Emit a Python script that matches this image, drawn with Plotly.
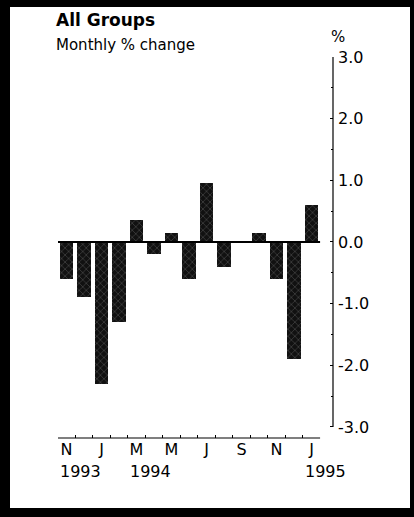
import plotly.graph_objects as go

# ---- data ----
months = ["Nov93", "Dec93", "Jan94", "Feb94", "Mar94", "Apr94", "May94", "Jun94",
          "Jul94", "Aug94", "Sep94", "Oct94", "Nov94", "Dec94", "Jan95"]
values = [-0.6, -0.9, -2.3, -1.3, 0.35, -0.2, 0.15, -0.6,
          0.95, -0.4, 0.0, 0.15, -0.6, -1.9, 0.6]
month_tick_idx = [0, 2, 4, 6, 8, 10, 12, 14]
month_tick_text = ["N", "J", "M", "M", "J", "S", "N", "J"]
year_idx = [0, 4, 14]
year_text = ["1993", "1994", "1995"]
y_tick_vals = [3, 2, 1, 0, -1, -2, -3]
y_tick_text = ["3.0", "2.0", "1.0", "0.0", "-1.0", "-2.0", "-3.0"]

W, H = 414, 517
L, R, T, B = 58, 81, 57, 79
pw = W - L - R
ph = H - T - B
x0r = -0.486
x1r = x0r + pw / 17.5
y0r, y1r = -3.18, 3.0

def px_x(p):
    return (p - L) / pw

def px_y(p):
    return (H - B - p) / ph

FONT = "DejaVu Sans"

fig = go.Figure()
fig.add_trace(go.Bar(
    x=list(range(len(values))), y=values, width=0.75,
    marker=dict(color="#111111", line=dict(width=0),
                pattern=dict(shape="x", fgcolor="#a8a8a8", size=5, solidity=0.18)),
    hoverinfo="skip", showlegend=False,
))

shapes = []
# zero line
shapes.append(dict(type="line", xref="x", yref="y", x0=x0r, x1=14.49, y0=0, y1=0,
                   line=dict(color="black", width=2)))
# bottom axis line
shapes.append(dict(type="line", xref="x", yref="paper", x0=x0r, x1=14.49, y0=0, y1=0,
                   line=dict(color="black", width=1.2)))
# y axis line
shapes.append(dict(type="line", xref="paper", yref="y", x0=1, x1=1, y0=-3, y1=3,
                   line=dict(color="black", width=1.2)))
# black frame
big = 5
shapes += [
    dict(type="rect", xref="paper", yref="paper", x0=-big, x1=px_x(10), y0=-big, y1=big,
         fillcolor="black", line=dict(width=0), layer="above"),
    dict(type="rect", xref="paper", yref="paper", x0=px_x(410), x1=big, y0=-big, y1=big,
         fillcolor="black", line=dict(width=0), layer="above"),
    dict(type="rect", xref="paper", yref="paper", x0=-big, x1=big, y0=px_y(7), y1=big,
         fillcolor="black", line=dict(width=0), layer="above"),
    dict(type="rect", xref="paper", yref="paper", x0=-big, x1=big, y0=-big, y1=px_y(508),
         fillcolor="black", line=dict(width=0), layer="above"),
]

annotations = [
    dict(text="<b>All Groups</b>", xref="paper", yref="paper", x=px_x(54), y=px_y(20),
         xanchor="left", yanchor="middle", showarrow=False,
         font=dict(family=FONT, size=17, color="black")),
    dict(text="Monthly % change", xref="paper", yref="paper", x=px_x(54), y=px_y(45),
         xanchor="left", yanchor="middle", showarrow=False,
         font=dict(family=FONT, size=15, color="black")),
    dict(text="%", xref="paper", yref="paper", x=px_x(329), y=px_y(37),
         xanchor="left", yanchor="middle", showarrow=False,
         font=dict(family=FONT, size=15, color="black")),
]
for i, t in zip(year_idx, year_text):
    annotations.append(dict(text=t, xref="x", yref="paper", x=i - 0.48, y=px_y(471),
                            xanchor="left", yanchor="middle", showarrow=False,
                            font=dict(family=FONT, size=16, color="black")))

fig.update_layout(
    width=W, height=H,
    margin=dict(l=L, r=R, t=T, b=B, pad=0),
    paper_bgcolor="white", plot_bgcolor="white",
    shapes=shapes, annotations=annotations,
    bargap=0,
    xaxis=dict(range=[x0r, x1r], showgrid=False, zeroline=False, showline=False,
               tickmode="array", tickvals=month_tick_idx, ticktext=month_tick_text,
               ticks="", tickfont=dict(family=FONT, size=16, color="black"),
               minor=dict(tickmode="array", tickvals=[i + 0.5 for i in range(14)],
                          ticks="inside", ticklen=3, tickcolor="black", tickwidth=1,
                          showgrid=False),
               fixedrange=True),
    yaxis=dict(range=[y0r, y1r], side="right", showgrid=False, zeroline=False,
               showline=False, tickmode="array", tickvals=y_tick_vals,
               ticktext=y_tick_text, ticks="inside", ticklen=3, tickcolor="black",
               ticklabelstandoff=4,
               tickfont=dict(family=FONT, size=16, color="black"),
               minor=dict(tickmode="array", tickvals=[2.5, 1.5, 0.5, -0.5, -1.5, -2.5],
                          ticks="inside", ticklen=2, tickcolor="black", showgrid=False),
               fixedrange=True),
)

fig.write_html("out.html", config={"displayModeBar": False, "staticPlot": True},
               post_script="document.body.style.margin='0';document.body.style.overflow='hidden';")
